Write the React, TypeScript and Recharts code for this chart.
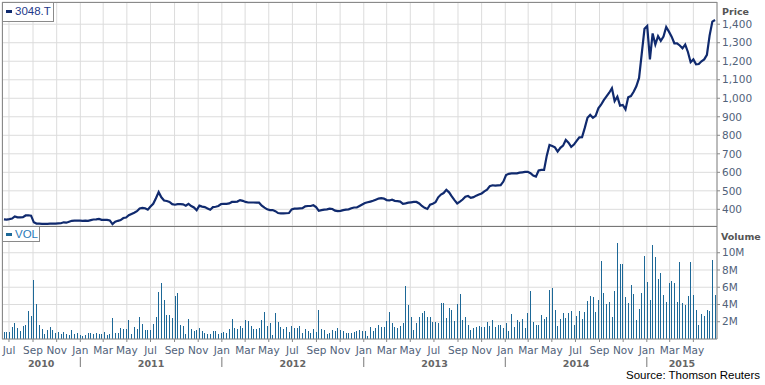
import React from "react";
import { LineChart, Line, BarChart, Bar, XAxis, YAxis, CartesianGrid } from "recharts";

const FONT = "'DejaVu Sans', Verdana, sans-serif";
const GRID = "#dcdcdc";
const FRAME = "#8a8a8a";
const TICK = "#51627a";
const LINE_COLOR = "#102a6e";
const BAR_COLOR = "#1d6897";

// weekly closes, 3048.T (yen), first week 2010-06-18
const price = [
  346, 345, 347, 350, 362, 357, 357, 358, 367, 368, 366,
  330, 323, 323, 322, 322, 322, 323, 323, 323, 324, 325,
  330, 328, 333, 338, 339, 339, 339, 338, 339, 338, 342,
  345, 346, 348, 343, 343, 343, 340, 320, 333, 338, 342,
  353, 356, 368, 375, 382, 390, 405, 408, 406, 398, 415,
  430, 460, 493, 465, 448, 445, 440, 428, 425, 428, 428,
  427, 420, 430, 418, 410, 395, 420, 415, 412, 405, 398,
  412, 414, 418, 428, 430, 430, 432, 440, 440, 442, 450,
  446, 440, 437, 437, 437, 436, 436,
  420, 409, 400, 396, 396, 390, 380, 378, 378, 379, 380,
  400, 404, 404, 405, 406, 416, 418, 418, 422, 412, 392,
  396, 398, 400, 404, 402, 393, 390, 392, 396, 398, 400,
  406, 410, 410, 418, 426, 434, 438, 442, 446, 452, 458,
  460, 458, 450, 448, 452, 446, 444, 442, 430, 432, 436,
  438, 440, 440, 432, 418, 408, 402, 425, 430, 438, 465,
  480, 488, 505, 492, 470, 450, 432, 442, 453, 468, 472,
  462, 466, 474, 480, 486, 497, 506, 525, 530, 528, 529,
  530, 550, 585, 592, 594, 594, 594,
  598, 600, 602, 603, 595, 582, 577, 610, 613, 613,
  690, 748, 742, 735, 712, 732, 744, 775, 760, 738,
  750, 770, 789, 790, 840, 895, 910, 895, 905, 946,
  965, 990, 1010, 1030, 1054, 985, 1009, 960, 964, 940,
  1005, 1012, 1035, 1065, 1110, 1243, 1375, 1390, 1210, 1350,
  1290, 1335, 1310, 1333, 1385, 1360, 1333, 1297, 1297,
  1285, 1270, 1290, 1250, 1195, 1210,
  1183, 1185, 1200, 1210, 1235, 1340, 1414, 1423,
];

// weekly volume, millions of shares
const volume = [
  0.85, 0.77, 0.85, 1.35, 1.9, 1.3, 0.96, 1.54, 1.65, 3.27,
  2.7, 6.85, 4.1, 1.65, 1.2, 0.6, 1.1, 1.4, 1.1, 0.7,
  0.85, 0.6, 0.85, 0.6, 0.5, 1.1, 0.6, 0.7, 0.5, 0.4,
  0.5, 0.7, 0.7, 0.6, 0.7, 0.6, 0.6, 0.85, 0.5, 0.6,
  2.46, 0.7, 0.7, 1.3, 1.2, 1.2, 2.2, 0.6, 1.4, 1.2,
  2.6, 1.75, 1.1, 1.1, 1.1, 1.75, 2.6, 5.45, 6.5, 4.5,
  2.8, 2.8, 2.46, 5.0, 5.35, 1.65, 1.54, 0.6, 2.35, 1.2,
  0.96, 1.1, 1.3, 0.96, 0.7, 0.6, 0.6, 0.96, 0.96, 0.6,
  0.7, 0.85, 0.7, 1.2, 2.35, 1.3, 1.2, 1.54, 1.3, 2.2,
  2.1, 1.54, 1.2, 1.2, 1.3,
  2.2, 3.15, 1.54, 1.9, 0.5, 3.0, 2.0, 1.4, 1.2, 1.4,
  0.85, 1.54, 1.3, 1.3, 1.54, 0.7, 1.2, 0.96, 0.7, 1.2,
  0.85, 3.4, 1.2, 1.1, 0.6, 0.7, 1.1, 0.96, 1.3, 1.1,
  0.96, 0.7, 0.7, 0.7, 0.85, 0.96, 1.1, 0.96, 0.96, 0.4,
  1.4, 0.96, 1.3, 1.65, 1.4, 1.4, 2.1, 3.15, 1.9, 1.4,
  1.3, 1.54, 1.9, 6.15, 3.96, 2.58, 1.1, 1.9, 2.58, 3.0,
  3.27, 2.58, 2.58, 2.0, 2.0, 1.9, 4.2, 4.2, 2.46, 3.6,
  3.4, 2.1, 4.08, 5.2, 2.2, 2.58, 1.65, 1.1, 1.3, 1.4,
  1.54, 1.4, 1.4, 2.0, 1.54, 2.2, 1.4, 1.65, 1.65, 1.3,
  1.9, 0.96, 2.9, 1.4,
  2.24, 1.94, 2.36, 1.33, 3.04, 5.55, 1.94, 1.6, 1.6, 2.8,
  2.28, 2.58, 5.67, 5.9, 3.38, 1.48, 2.36, 2.97, 2.47, 3.0,
  3.27, 1.6, 2.7, 3.27, 2.36, 3.16, 4.4, 5.0, 4.9, 3.16,
  4.52, 9.1, 5.3, 4.07, 4.3, 2.58, 5.55, 11.1, 8.67, 8.75,
  4.9, 4.2, 6.24, 5.2, 2.24, 3.5, 5.3, 9.66, 6.58, 4.52,
  10.9, 9.54, 7.0, 7.6, 5.1, 4.3, 6.46, 6.7, 6.46, 4.3,
  8.97, 4.18, 3.95, 4.98, 8.97, 5.1, 3.38, 1.6, 2.93, 2.62,
  3.38, 3.27, 9.2, 5.1,
];

const monthTicks = [
  "2010-07", "2010-09", "2010-11",
  "2011-01", "2011-03", "2011-05", "2011-07", "2011-09", "2011-11",
  "2012-01", "2012-03", "2012-05", "2012-07", "2012-09", "2012-11",
  "2013-01", "2013-03", "2013-05", "2013-07", "2013-09", "2013-11",
  "2014-01", "2014-03", "2014-05", "2014-07", "2014-09", "2014-11",
  "2015-01", "2015-03", "2015-05",
];
const monthNames = ["Jan", "Feb", "Mar", "Apr", "May", "Jun", "Jul", "Aug", "Sep", "Oct", "Nov", "Dec"];
const years = [2010, 2011, 2012, 2013, 2014, 2015];
const priceTicks = [400, 500, 600, 700, 800, 900, 1000, 1100, 1200, 1300, 1400];
const volumeTicks = [2, 4, 6, 8, 10];

const DAY = 86400000;
const firstWeek = Date.UTC(2010, 5, 18);
const DOMAIN: [number, number] = [Date.UTC(2010, 5, 13), Date.UTC(2015, 6, 1)];

const data = price.map((p, i) => ({ t: firstWeek + i * 7 * DAY, price: p, vol: volume[i] }));

const monthTimes = monthTicks.map((s) => {
  const [y, m] = s.split("-").map(Number);
  return Date.UTC(y, m - 1, 1);
});

const separators = years.slice(1).map((y) => Date.UTC(y, 0, 1));
const yearMids = years.map((y) => {
  const a = Math.max(Date.UTC(y, 0, 1), DOMAIN[0]);
  const b = Math.min(Date.UTC(y + 1, 0, 1), DOMAIN[1]);
  return (a + b) / 2;
});
const yearTicks = [...yearMids, ...separators].sort((a, b) => a - b);

const YearTick = (props: any) => {
  const { x, y, payload } = props;
  const v = payload.value;
  if (separators.includes(v)) {
    return <line x1={x} x2={x} y1={y + 3} y2={y + 13} stroke="#777" />;
  }
  return (
    <text x={x} y={y + 12.5} textAnchor="middle" fontFamily={FONT} fontSize={9.5} fontWeight="bold" fill="#666">
      {new Date(v).getUTCFullYear()}
    </text>
  );
};

const tickStyle = { fill: TICK, fontSize: 10.5, fontFamily: FONT };

export default function App() {
  return (
    <div style={{ position: "absolute", left: 0, top: 0, width: 765, height: 385, background: "#fff", overflow: "hidden" }}>
      <div style={{ position: "absolute", left: 0, top: 0 }}>
        <LineChart width={765} height={226} data={data} margin={{ top: 2, right: 0, bottom: 0, left: 2 }}>
          <CartesianGrid stroke={GRID} />
          <XAxis dataKey="t" type="number" domain={DOMAIN} ticks={monthTimes} interval={0} hide allowDataOverflow />
          <YAxis
            orientation="right"
            width={48}
            domain={[310, 1520]}
            ticks={priceTicks}
            interval={0}
            allowDataOverflow
            tickFormatter={(v: number) => v.toLocaleString("en-US")}
            tickSize={3}
            tickMargin={2}
            axisLine={{ stroke: FRAME }}
            tickLine={{ stroke: FRAME }}
            tick={tickStyle}
          />
          <Line type="linear" dataKey="price" stroke={LINE_COLOR} strokeWidth={2.2} dot={false} isAnimationActive={false} />
        </LineChart>
      </div>

      <div style={{ position: "absolute", left: 0, top: 226 }}>
        <BarChart width={765} height={159} data={data} margin={{ top: 0, right: 0, bottom: 0, left: 2 }}>
          <CartesianGrid stroke={GRID} />
          <XAxis
            dataKey="t"
            type="number"
            domain={DOMAIN}
            ticks={monthTimes}
            interval={0}
            allowDataOverflow
            height={15}
            tickSize={3}
            tickMargin={5}
            axisLine={{ stroke: FRAME }}
            tickLine={{ stroke: FRAME }}
            tick={tickStyle}
            tickFormatter={(v: number) => monthNames[new Date(v).getUTCMonth()]}
          />
          <XAxis
            xAxisId="yr"
            dataKey="t"
            type="number"
            domain={DOMAIN}
            ticks={yearTicks}
            interval={0}
            allowDataOverflow
            height={31}
            tickSize={0}
            tickMargin={0}
            axisLine={false}
            tickLine={false}
            tick={(p: any) => <YearTick {...p} />}
          />
          <YAxis
            orientation="right"
            width={48}
            domain={[0, 13.1]}
            ticks={volumeTicks}
            interval={0}
            allowDataOverflow
            tickFormatter={(v: number) => `${v}M`}
            tickSize={3}
            tickMargin={2}
            axisLine={{ stroke: FRAME }}
            tickLine={{ stroke: FRAME }}
            tick={tickStyle}
          />
          <Bar dataKey="vol" fill={BAR_COLOR} barSize={1} shapeRendering="crispEdges" isAnimationActive={false} />
        </BarChart>
      </div>

      {/* frame and divider */}
      <div style={{ position: "absolute", left: 2, top: 2, width: 715, height: 337, borderLeft: `1px solid ${FRAME}`, borderTop: `1px solid ${FRAME}`, boxSizing: "border-box" }} />
      <div style={{ position: "absolute", left: 2, top: 226, width: 715, height: 1, background: "#777" }} />

      {/* legends */}
      <div style={{ position: "absolute", left: 2, top: 2, width: 52, height: 20, border: `1px solid ${FRAME}`, boxSizing: "border-box", background: "#fff" }}>
        <div style={{ position: "absolute", left: 3, top: 7, width: 6, height: 3, background: LINE_COLOR }} />
        <div style={{ position: "absolute", left: 12, top: 1, fontFamily: "'Liberation Sans', Arial, sans-serif", fontSize: 11.5, lineHeight: "15px", color: "#23388a" }}>3048.T</div>
      </div>
      <div style={{ position: "absolute", left: 2, top: 226, width: 38, height: 16, border: `1px solid ${FRAME}`, boxSizing: "border-box", background: "#fff" }}>
        <div style={{ position: "absolute", left: 3, top: 6, width: 6, height: 3, background: BAR_COLOR }} />
        <div style={{ position: "absolute", left: 12, top: 0, fontFamily: "'Liberation Sans', Arial, sans-serif", fontSize: 11.5, lineHeight: "14px", color: "#2a7ab8" }}>VOL</div>
      </div>

      {/* axis titles and source */}
      <div style={{ position: "absolute", left: 722, top: 5, fontFamily: FONT, fontSize: 9.5, fontWeight: "bold", lineHeight: "13px", color: "#555" }}>Price</div>
      <div style={{ position: "absolute", left: 721, top: 230, fontFamily: FONT, fontSize: 9.5, fontWeight: "bold", lineHeight: "13px", color: "#555" }}>Volume</div>
      <div style={{ position: "absolute", right: 5, top: 368, fontFamily: "'Liberation Sans', Arial, sans-serif", fontSize: 11.5, lineHeight: "14px", color: "#000" }}>Source: Thomson Reuters</div>
    </div>
  );
}
